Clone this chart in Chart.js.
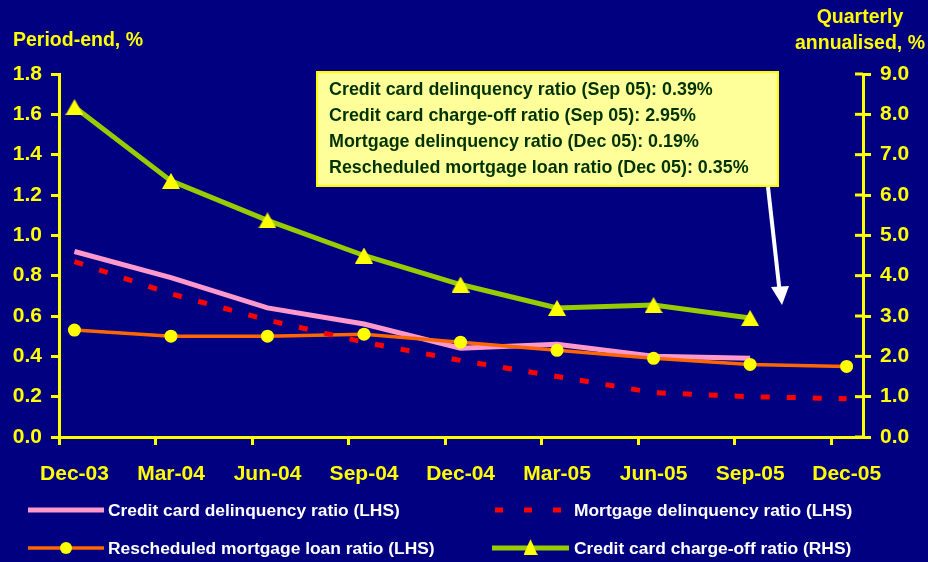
<!DOCTYPE html>
<html>
<head>
<meta charset="utf-8">
<script src="https://cdn.jsdelivr.net/npm/chart.js@4.4.1/dist/chart.umd.min.js"></script>
<style>
  html, body { margin: 0; padding: 0; background: #000080; }
  #wrap { width: 928px; height: 562px; position: relative; }
  canvas { display: block; }
</style>
</head>
<body>
<div id="wrap"><canvas id="c" width="928" height="562"></canvas></div>
<script>
// ---- Data ----
const categories = ['Dec-03','Mar-04','Jun-04','Sep-04','Dec-04','Mar-05','Jun-05','Sep-05','Dec-05'];
const ccDelinquency   = [0.92, 0.79, 0.64, 0.56, 0.44, 0.46, 0.40, 0.39, null];
const mortDelinquency = [0.87, 0.71, 0.58, 0.47, 0.38, 0.30, 0.22, 0.20, 0.19];
const rescheduled     = [0.53, 0.50, 0.50, 0.51, 0.47, 0.43, 0.39, 0.36, 0.35];
const ccChargeOff     = [8.18, 6.35, 5.37, 4.50, 3.78, 3.20, 3.27, 2.95, null];
const leftTicks  = { min: 0, max: 1.8, step: 0.2 };
const rightTicks = { min: 0, max: 9.0, step: 1.0 };
const nameCcDelinq  = 'Credit card delinquency ratio (LHS)';
const nameMortDelinq = 'Mortgage delinquency ratio (LHS)';
const nameResched   = 'Rescheduled mortgage loan ratio (LHS)';
const nameChargeOff = 'Credit card charge-off ratio (RHS)';
const boxLines = [
  'Credit card delinquency ratio (Sep 05): 0.39%',
  'Credit card charge-off ratio (Sep 05): 2.95%',
  'Mortgage delinquency ratio (Dec 05): 0.19%',
  'Rescheduled mortgage loan ratio (Dec 05): 0.35%'
];

// ---- Styles ----
const YELLOW = '#FFFF00';
const FONT = '"Liberation Sans", Arial, Helvetica, sans-serif';
const C_PINK = '#FF99CC', C_RED = '#FF0000', C_ORANGE = '#FF6600', C_GREEN = '#99CC00';

function triangleImg(w, h, color) {
  const cv = document.createElement('canvas');
  cv.width = w; cv.height = h;
  const g = cv.getContext('2d');
  g.fillStyle = color;
  g.beginPath(); g.moveTo(w/2, 0); g.lineTo(w, h); g.lineTo(0, h); g.closePath(); g.fill();
  return cv;
}
const triImg = triangleImg(18, 16, YELLOW);

const pts = arr => arr.map((v, i) => ({ x: i, y: v }));
const X_OFF = 0.16;

const overlay = {
  id: 'overlay',
  afterDraw(chart) {
    const ctx = chart.ctx;
    const y2 = chart.scales.y2;
    ctx.save();
    // inner half of right-axis tick marks
    ctx.strokeStyle = YELLOW; ctx.lineWidth = 3;
    y2.ticks.forEach(t => {
      const py = y2.getPixelForValue(t.value);
      ctx.beginPath(); ctx.moveTo(y2.left - 8, py); ctx.lineTo(y2.left, py); ctx.stroke();
    });

    // axis titles
    ctx.fillStyle = YELLOW;
    ctx.font = 'bold 19.5px ' + FONT;
    ctx.textBaseline = 'alphabetic';
    ctx.textAlign = 'left';
    ctx.fillText('Period-end, %', 13, 46);
    ctx.textAlign = 'center';
    ctx.fillText('Quarterly', 860, 23);
    ctx.fillText('annualised, %', 860, 49);

    // annotation box
    ctx.fillStyle = '#FFFF99';
    ctx.fillRect(317, 72, 461, 114);
    ctx.strokeStyle = YELLOW; ctx.lineWidth = 2;
    ctx.strokeRect(317, 72, 461, 114);
    ctx.fillStyle = '#003300';
    ctx.font = 'bold 17.9px ' + FONT;
    ctx.textAlign = 'left';
    const bl = [95, 121, 147, 173];
    boxLines.forEach((s, i) => ctx.fillText(s, 329, bl[i]));

    // arrow
    ctx.strokeStyle = '#FFFFFF'; ctx.fillStyle = '#FFFFFF'; ctx.lineWidth = 4;
    ctx.beginPath(); ctx.moveTo(768, 187); ctx.lineTo(779.5, 290); ctx.stroke();
    ctx.beginPath(); ctx.moveTo(771, 287); ctx.lineTo(789, 286); ctx.lineTo(782, 305); ctx.closePath(); ctx.fill();

    // legend (two columns, two rows)
    const ds = chart.data.datasets;
    ctx.font = 'bold 17.4px ' + FONT;
    ctx.textBaseline = 'middle';
    ctx.textAlign = 'left';
    const items = [
      { i: 3, x0: 28, x1: 104, tx: 108, y: 510 },
      { i: 1, x0: 495, x1: 566, tx: 574, y: 510 },
      { i: 2, x0: 28, x1: 104, tx: 108, y: 548 },
      { i: 0, x0: 492, x1: 569, tx: 574, y: 548 }
    ];
    items.forEach(it => {
      const d = ds[it.i];
      ctx.strokeStyle = d.borderColor;
      ctx.lineWidth = d.borderWidth;
      ctx.setLineDash(d.borderDash && d.borderDash.length ? [8, 21] : []);
      ctx.beginPath(); ctx.moveTo(it.x0, it.y); ctx.lineTo(it.x1, it.y); ctx.stroke();
      ctx.setLineDash([]);
      const cx = (it.x0 + it.x1) / 2;
      if (d.pointStyle === 'circle' && d.pointRadius > 0) {
        ctx.fillStyle = d.pointBackgroundColor;
        ctx.beginPath(); ctx.arc(cx, it.y, 6, 0, Math.PI * 2); ctx.fill();
      } else if (d.pointStyle instanceof HTMLCanvasElement) {
        ctx.drawImage(d.pointStyle, cx - 7, it.y - 9, 14, 16);
      }
      ctx.fillStyle = '#FFFFFF';
      ctx.fillText(d.label, it.tx, it.y + 1);
    });
    ctx.restore();
  }
};

const tickFont = { family: FONT, size: 21, weight: 'bold' };

new Chart(document.getElementById('c'), {
  type: 'line',
  data: {
    datasets: [
      { label: nameChargeOff, data: pts(ccChargeOff), yAxisID: 'y2',
        borderColor: C_GREEN, borderWidth: 5, pointStyle: triImg, pointRadius: 9,
        pointBackgroundColor: YELLOW, pointBorderWidth: 0, tension: 0 },
      { label: nameMortDelinq, data: pts(mortDelinquency), yAxisID: 'y',
        borderColor: C_RED, borderWidth: 5, borderDash: [9, 17], pointRadius: 0, tension: 0 },
      { label: nameResched, data: pts(rescheduled), yAxisID: 'y',
        borderColor: C_ORANGE, borderWidth: 3.5, pointStyle: 'circle', pointRadius: 6.5,
        pointBackgroundColor: YELLOW, pointBorderColor: YELLOW, pointBorderWidth: 0, tension: 0 },
      { label: nameCcDelinq, data: pts(ccDelinquency), yAxisID: 'y',
        borderColor: C_PINK, borderWidth: 5, pointRadius: 0, tension: 0 }
    ]
  },
  options: {
    responsive: false,
    animation: false,
    devicePixelRatio: 1,
    events: [],
    layout: { padding: { top: 74, left: 0, right: 0, bottom: 0 } },
    plugins: { legend: { display: false }, tooltip: { enabled: false } },
    scales: {
      x: {
        type: 'linear',
        min: -X_OFF,
        max: categories.length - 1 + 0.17,
        afterBuildTicks: s => { s.ticks = categories.map((c, i) => ({ value: i - X_OFF })); },
        afterFit: s => { s.height = 125; },
        ticks: {
          callback: (v, i) => categories[i],
          color: YELLOW, font: tickFont, padding: 17, labelOffset: 15.5,
          maxRotation: 0, autoSkip: false
        },
        grid: { drawOnChartArea: false, drawTicks: true, tickLength: 8, color: YELLOW, lineWidth: 3 },
        border: { display: true, color: YELLOW, width: 3 }
      },
      y: {
        position: 'left',
        min: leftTicks.min, max: leftTicks.max,
        afterFit: s => { s.width = 59; },
        ticks: { stepSize: leftTicks.step, callback: v => v.toFixed(1), color: YELLOW, font: tickFont, padding: 9 },
        grid: { drawOnChartArea: false, drawTicks: true, tickLength: 8, color: YELLOW, lineWidth: 3 },
        border: { display: true, color: YELLOW, width: 3 }
      },
      y2: {
        position: 'right',
        min: rightTicks.min, max: rightTicks.max,
        afterFit: s => { s.width = 65; },
        ticks: { stepSize: rightTicks.step, callback: v => v.toFixed(1), color: YELLOW, font: tickFont, padding: 9 },
        grid: { drawOnChartArea: false, drawTicks: true, tickLength: 8, color: YELLOW, lineWidth: 3 },
        border: { display: true, color: YELLOW, width: 3 }
      }
    }
  },
  plugins: [overlay]
});
</script>
</body>
</html>
